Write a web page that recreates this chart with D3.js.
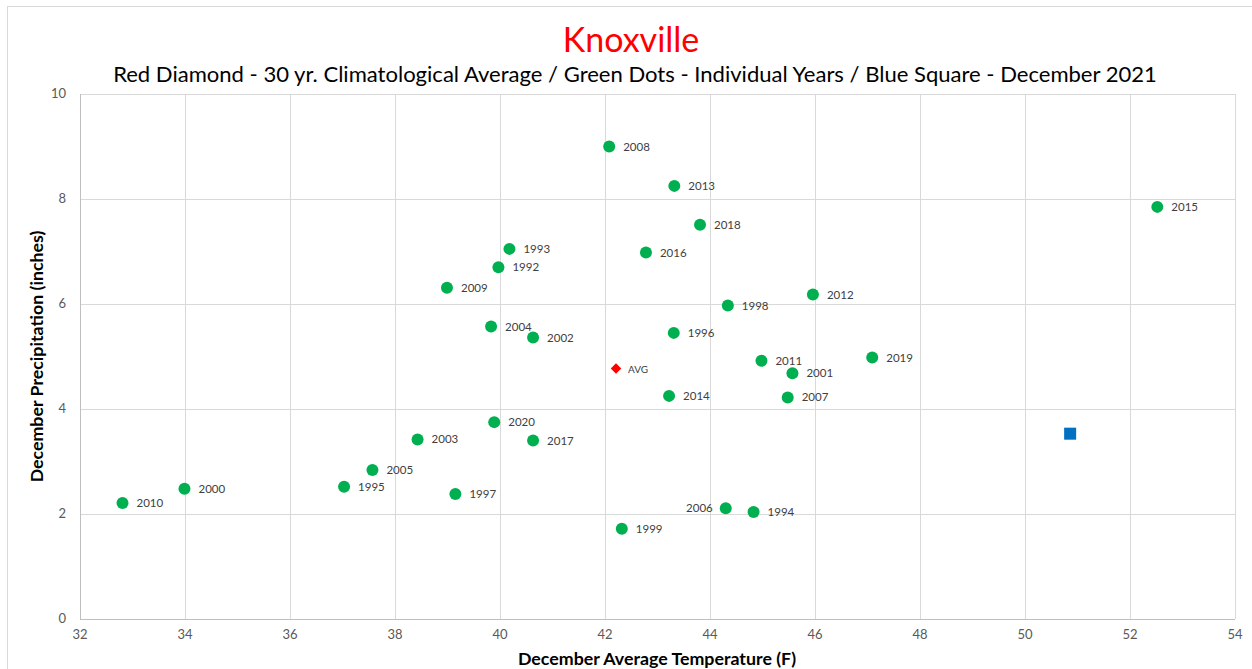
<!DOCTYPE html>
<html>
<head>
<meta charset="utf-8">
<script src="https://cdn.jsdelivr.net/npm/d3@7"></script>
<style>
  body { margin: 0; background: #fff; }
  svg { display: block; font-family: Lato, "Open Sans", sans-serif; }
</style>
</head>
<body>
<div id="chart"></div>
<script>
// individual years: label, temperature (F), precipitation (in)
const years = ["1992","1993","1994","1995","1996","1997","1998","1999","2000","2001",
               "2002","2003","2004","2005","2006","2007","2008","2009","2010","2011",
               "2012","2013","2014","2015","2016","2017","2018","2019","2020"];
const temps = [39.97, 40.18, 44.83, 37.03, 43.31, 39.15, 44.34, 42.32, 33.99, 45.57,
               40.63, 38.43, 39.83, 37.57, 44.30, 45.48, 42.08, 38.99, 32.81, 44.98,
               45.96, 43.32, 43.22, 52.52, 42.78, 40.63, 43.81, 47.09, 39.89];
const precips = [6.70, 7.05, 2.04, 2.52, 5.45, 2.38, 5.97, 1.72, 2.48, 4.68,
                 5.36, 3.42, 5.57, 2.84, 2.11, 4.22, 9.00, 6.31, 2.21, 4.92,
                 6.18, 8.25, 4.25, 7.85, 6.98, 3.40, 7.51, 4.98, 3.75];
// labels drawn on the left of their dot
const leftLabels = ["2006"];

// 30 yr average and December 2021
const avgPoint = { label: "AVG", temp: 42.21, precip: 4.77 };
const dec2021 = { temp: 50.86, precip: 3.53 };

const xTicks = [32, 34, 36, 38, 40, 42, 44, 46, 48, 50, 52, 54];
const yTicks = [0, 2, 4, 6, 8, 10];

const width = 1252, height = 669;
const margin = { left: 80, right: 17, top: 94, bottom: 50 };

const svg = d3.select("#chart").append("svg")
    .attr("width", width)
    .attr("height", height);

// outer chart border
svg.append("rect")
    .attr("x", 7.5).attr("y", 6.5)
    .attr("width", 1300).attr("height", 700)
    .attr("fill", "none")
    .attr("stroke", "#d9d9d9");

const x = d3.scaleLinear().domain([32, 54]).range([margin.left, width - margin.right]);
const y = d3.scaleLinear().domain([0, 10]).range([height - margin.bottom, margin.top]);

// gridlines
svg.append("g")
    .selectAll("line.v")
    .data(xTicks)
    .enter().append("line")
    .attr("x1", d => Math.round(x(d)) + 0.5).attr("x2", d => Math.round(x(d)) + 0.5)
    .attr("y1", y(10)).attr("y2", y(0))
    .attr("stroke", "#d9d9d9");

svg.append("g")
    .selectAll("line.h")
    .data(yTicks)
    .enter().append("line")
    .attr("x1", x(32)).attr("x2", x(54))
    .attr("y1", d => Math.round(y(d)) + 0.5).attr("y2", d => Math.round(y(d)) + 0.5)
    .attr("stroke", d => d === 0 ? "#bfbfbf" : "#d9d9d9");

// axis line on the left
svg.append("line")
    .attr("x1", Math.round(x(32)) + 0.5).attr("x2", Math.round(x(32)) + 0.5)
    .attr("y1", y(10)).attr("y2", y(0))
    .attr("stroke", "#bfbfbf");

// tick labels
svg.append("g")
    .selectAll("text")
    .data(xTicks)
    .enter().append("text")
    .attr("x", d => x(d))
    .attr("y", y(0) + 20)
    .attr("text-anchor", "middle")
    .attr("font-size", 13)
    .attr("fill", "#595959")
    .text(d => d);

svg.append("g")
    .selectAll("text")
    .data(yTicks)
    .enter().append("text")
    .attr("x", x(32) - 14)
    .attr("y", d => y(d) + 4)
    .attr("text-anchor", "end")
    .attr("font-size", 13)
    .attr("fill", "#595959")
    .text(d => d);

// titles
svg.append("text")
    .attr("x", 631).attr("y", 52)
    .attr("text-anchor", "middle")
    .attr("font-size", 34)
    .attr("fill", "#ff0000")
    .text("Knoxville");

const sub = svg.append("text")
    .attr("x", 635).attr("y", 82)
    .attr("text-anchor", "middle")
    .attr("font-size", 21)
    .attr("fill", "#000")
    .text("Red Diamond - 30 yr. Climatological Average / Green Dots - Individual Years / Blue Square - December 2021");
// fit the subtitle to the width seen in the picture
const subW = sub.node().getComputedTextLength();
sub.attr("font-size", 21 * 1044 / subW);

svg.append("text")
    .attr("x", 657).attr("y", 665)
    .attr("text-anchor", "middle")
    .attr("font-size", 17.8)
    .attr("font-weight", "bold")
    .attr("fill", "#000")
    .text("December Average Temperature  (F)");

svg.append("text")
    .attr("transform", "translate(43," + y(5) + ") rotate(-90)")
    .attr("text-anchor", "middle")
    .attr("font-size", 17.8)
    .attr("font-weight", "bold")
    .attr("fill", "#000")
    .text("December Precipitation  (inches)");

// individual years
const pts = years.map((yr, i) => ({ label: yr, temp: temps[i], precip: precips[i] }));

const dots = svg.append("g").attr("id", "years");
dots.selectAll("circle")
    .data(pts)
    .enter().append("circle")
    .attr("cx", d => x(d.temp))
    .attr("cy", d => y(d.precip))
    .attr("r", 6)
    .attr("fill", "#00b050");

dots.selectAll("text")
    .data(pts)
    .enter().append("text")
    .attr("x", d => leftLabels.includes(d.label) ? x(d.temp) - 13 : x(d.temp) + 14)
    .attr("y", d => y(d.precip) + 4)
    .attr("text-anchor", d => leftLabels.includes(d.label) ? "end" : "start")
    .attr("font-size", 11.5)
    .attr("fill", "#404040")
    .text(d => d.label);

// average diamond
svg.append("path")
    .attr("d", d3.symbol().type(d3.symbolDiamond2).size(70))
    .attr("transform", "translate(" + x(avgPoint.temp) + "," + y(avgPoint.precip) + ")")
    .attr("fill", "#ff0000");

svg.append("text")
    .attr("x", x(avgPoint.temp) + 12)
    .attr("y", y(avgPoint.precip) + 4)
    .attr("font-size", 10)
    .attr("fill", "#404040")
    .text(avgPoint.label);

// December 2021 square
svg.append("rect")
    .attr("x", x(dec2021.temp) - 6)
    .attr("y", y(dec2021.precip) - 6)
    .attr("width", 12).attr("height", 12)
    .attr("fill", "#0070c0");
</script>
</body>
</html>
